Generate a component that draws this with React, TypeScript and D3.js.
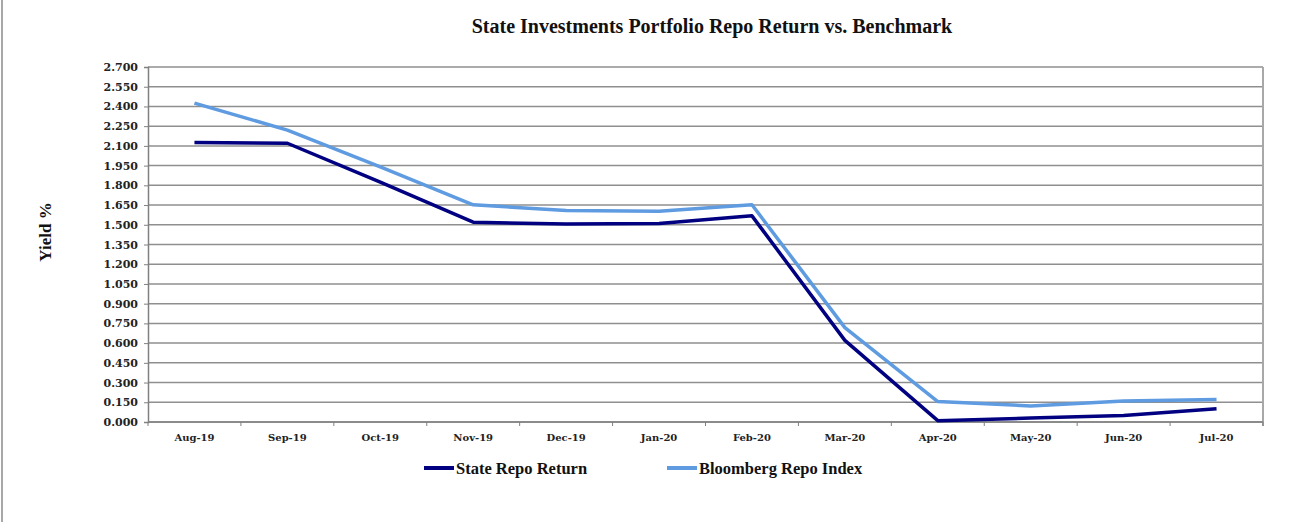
import React, { useEffect, useRef } from 'react';
import * as d3 from 'd3';

const months = ['Aug-19', 'Sep-19', 'Oct-19', 'Nov-19', 'Dec-19', 'Jan-20', 'Feb-20', 'Mar-20', 'Apr-20', 'May-20', 'Jun-20', 'Jul-20'];
const stateRepo = [2.125, 2.12, 1.825, 1.52, 1.505, 1.51, 1.568, 0.621, 0.01, 0.03, 0.05, 0.1];
const bloombergRepo = [2.425, 2.22, 1.94, 1.652, 1.608, 1.603, 1.652, 0.718, 0.155, 0.122, 0.16, 0.172];
const yTicks = d3.range(0, 2.7001, 0.15);

const series = [
    { name: 'State Repo Return', values: stateRepo, color: '#000080' },
    { name: 'Bloomberg Repo Index', values: bloombergRepo, color: '#5e9be0' },
];

const App = () => {
    const svgRef = useRef(null);

    useEffect(() => {
        const width = 1312;
        const height = 522;
        const margin = { top: 67, right: 49, bottom: 100, left: 148 };
        const textFont = '"Liberation Serif", serif';
        const tickFont = '"DejaVu Serif", serif';

        d3.select(svgRef.current).selectAll('*').remove();

        const svg = d3.select(svgRef.current)
            .attr('width', width)
            .attr('height', height);

        svg.append('rect').attr('width', width).attr('height', height).attr('fill', '#fff');

        // outer frame edge on the left
        svg.append('line')
            .attr('x1', 2).attr('x2', 2).attr('y1', 0).attr('y2', height)
            .attr('stroke', '#8a8a8a').attr('stroke-width', 1.5);

        const x = d3.scaleBand()
            .domain(months)
            .range([margin.left, width - margin.right])
            .padding(0);
        const y = d3.scaleLinear()
            .domain([0, 2.7])
            .range([height - margin.bottom, margin.top]);

        const cx = (m) => x(m) + x.bandwidth() / 2;

        // gridlines
        svg.append('g')
            .selectAll('line')
            .data(yTicks)
            .enter()
            .append('line')
            .attr('x1', margin.left)
            .attr('x2', width - margin.right)
            .attr('y1', d => y(d))
            .attr('y2', d => y(d))
            .attr('stroke', '#8f8f8f')
            .attr('stroke-width', 1.5);

        // right border
        svg.append('line')
            .attr('x1', width - margin.right).attr('x2', width - margin.right)
            .attr('y1', margin.top).attr('y2', height - margin.bottom + 4)
            .attr('stroke', '#a8a8a8').attr('stroke-width', 2);

        // y axis
        const yAxis = svg.append('g')
            .attr('transform', `translate(${margin.left},0)`)
            .call(d3.axisLeft(y).tickValues(yTicks).tickFormat(d3.format('.3f')).tickSize(4).tickPadding(6));
        yAxis.select('.domain').attr('stroke', '#808080').attr('stroke-width', 1.5);
        yAxis.selectAll('.tick line').attr('stroke', '#808080');
        yAxis.selectAll('text')
            .attr('font-family', tickFont)
            .attr('font-weight', 'bold')
            .attr('font-size', '11px')
            .attr('fill', '#222');

        // x axis with ticks at category boundaries
        const xAxisG = svg.append('g')
            .attr('transform', `translate(0,${height - margin.bottom})`);
        xAxisG.append('line')
            .attr('x1', margin.left).attr('x2', width - margin.right)
            .attr('stroke', '#808080').attr('stroke-width', 1.5);
        const bounds = months.map(m => x(m)).concat([width - margin.right]);
        xAxisG.selectAll('.bt')
            .data(bounds)
            .enter()
            .append('line')
            .attr('x1', d => d).attr('x2', d => d)
            .attr('y1', 0).attr('y2', 4)
            .attr('stroke', '#808080');
        xAxisG.selectAll('.lbl')
            .data(months)
            .enter()
            .append('text')
            .attr('x', d => cx(d))
            .attr('y', 19)
            .attr('text-anchor', 'middle')
            .attr('font-family', tickFont)
            .attr('font-weight', 'bold')
            .attr('font-size', '10px')
            .attr('fill', '#222')
            .text(d => d);

        // lines
        const line = d3.line()
            .x((d, i) => cx(months[i]))
            .y(d => y(d));
        series.slice().reverse().forEach(s => {
            svg.append('path')
                .datum(s.values)
                .attr('d', line)
                .attr('fill', 'none')
                .attr('stroke', s.color)
                .attr('stroke-width', 3.5)
                .attr('stroke-linejoin', 'round');
        });

        // title
        svg.append('text')
            .attr('x', 712)
            .attr('y', 33)
            .attr('text-anchor', 'middle')
            .attr('font-family', textFont)
            .attr('font-weight', 'bold')
            .attr('font-size', '20px')
            .attr('fill', '#111')
            .text('State Investments Portfolio Repo Return vs. Benchmark');

        // y title
        svg.append('text')
            .attr('transform', 'translate(51,232) rotate(-90)')
            .attr('text-anchor', 'middle')
            .attr('font-family', textFont)
            .attr('font-weight', 'bold')
            .attr('font-size', '17px')
            .attr('fill', '#111')
            .text('Yield %');

        // legend
        const legendX = [424, 667];
        series.forEach((s, i) => {
            const g = svg.append('g').attr('transform', `translate(${legendX[i]},468)`);
            g.append('line')
                .attr('x1', 0).attr('x2', 30)
                .attr('stroke', s.color).attr('stroke-width', 4);
            g.append('text')
                .attr('x', 32)
                .attr('y', 6)
                .attr('font-family', textFont)
                .attr('font-weight', 'bold')
                .attr('font-size', '16.5px')
                .attr('fill', '#111')
                .text(s.name);
        });
    }, []);

    return (
        <div style={{ position: 'absolute', left: 0, top: 0 }}>
            <svg ref={svgRef}></svg>
        </div>
    );
};

export default App;
